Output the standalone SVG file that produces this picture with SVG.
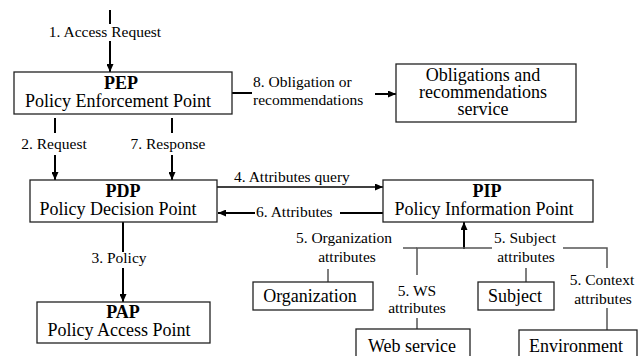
<svg xmlns="http://www.w3.org/2000/svg" width="639" height="356" viewBox="0 0 639 356" font-family="'Liberation Serif', 'DejaVu Serif', serif">
<style>
  text { font-family: "Liberation Serif", "DejaVu Serif", serif; fill: #000; }
  .box { fill: #fff; stroke: #222; stroke-width: 1.3; }
  .t { font-size: 18px; text-anchor: middle; }
  .b { font-weight: bold; }
  .lbl { font-size: 15.5px; }
  .mid { text-anchor: middle; }
  .arr { stroke: #000; stroke-width: 2; fill: none; }
  .bus { stroke: #555; stroke-width: 1.5; fill: none; }
</style>
<defs>
  <marker id="ah" markerUnits="userSpaceOnUse" markerWidth="8" markerHeight="7" refX="8" refY="3.5" orient="auto">
    <path d="M0,0 L8,3.5 L0,7 z" fill="#000"/>
  </marker>
</defs>
<rect width="639" height="356" fill="#fff"/>

<g id="connectors">
  <line class="arr" x1="110" y1="10" x2="110" y2="24"/>
  <line class="arr" x1="110" y1="41" x2="110" y2="72" marker-end="url(#ah)"/>
  <text class="lbl mid" x="105" y="37">1. Access Request</text>
  <line class="arr" x1="55" y1="118" x2="55" y2="133"/>
  <line class="arr" x1="55" y1="155" x2="55" y2="180" marker-end="url(#ah)"/>
  <text class="lbl mid" x="54" y="149">2. Request</text>
  <line class="arr" x1="172" y1="118" x2="172" y2="133"/>
  <line class="arr" x1="172" y1="155" x2="172" y2="180" marker-end="url(#ah)"/>
  <text class="lbl mid" x="168" y="149">7. Response</text>
  <line class="arr" x1="123" y1="222" x2="123" y2="252"/>
  <line class="arr" x1="123" y1="268" x2="123" y2="302" marker-end="url(#ah)"/>
  <text class="lbl mid" x="119" y="263">3. Policy</text>
  <line class="arr" x1="232" y1="93" x2="252" y2="93"/>
  <line class="arr" x1="375" y1="94" x2="396" y2="94" marker-end="url(#ah)"/>
  <text class="lbl" x="253" y="87">8. Obligation or</text>
  <text class="lbl" x="253" y="105">recommendations</text>
  <line x1="217" y1="187" x2="383" y2="187" stroke="#000" stroke-width="1.6" marker-end="url(#ah)"/>
  <text class="lbl" x="234" y="182">4. Attributes query</text>
  <line class="arr" x1="383" y1="213" x2="340" y2="213"/>
  <line class="arr" x1="255" y1="213" x2="218" y2="213" marker-end="url(#ah)"/>
  <text class="lbl" x="256" y="217">6. Attributes</text>
  <line class="arr" x1="464" y1="249" x2="464" y2="222" marker-end="url(#ah)"/>
  <polyline class="bus" points="417,275 417,248 492,248"/>
  <line class="bus" x1="403" y1="248" x2="417" y2="248"/>
  <polyline class="bus" points="563,248 607,248 607,268"/>
  <line class="bus" x1="607" y1="308" x2="607" y2="330"/>
  <line class="bus" x1="328" y1="269" x2="328" y2="282"/>
  <line class="bus" x1="526" y1="268" x2="526" y2="282"/>
  <line class="bus" x1="417" y1="318" x2="417" y2="329"/>
  <text class="lbl mid" x="344" y="243">5. Organization</text>
  <text class="lbl mid" x="347" y="262">attributes</text>
  <text class="lbl mid" x="525" y="243">5. Subject</text>
  <text class="lbl mid" x="526" y="262">attributes</text>
  <text class="lbl mid" x="417" y="296">5. WS</text>
  <text class="lbl mid" x="417" y="313">attributes</text>
  <text class="lbl mid" x="602" y="285">5. Context</text>
  <text class="lbl mid" x="603" y="304">attributes</text>
</g>

<g id="pep">
  <rect class="box" x="14" y="72" width="218" height="42"/>
  <text class="t b" x="121" y="89">PEP</text>
  <text class="t" x="118" y="107">Policy Enforcement Point</text>
</g>
<g id="obligations">
  <rect class="box" x="396" y="64" width="180" height="58"/>
  <text class="t" x="483" y="81">Obligations and</text>
  <text class="t" x="483" y="98">recommendations</text>
  <text class="t" x="483" y="115">service</text>
</g>
<g id="pdp">
  <rect class="box" x="30" y="180" width="187" height="42"/>
  <text class="t b" x="123" y="197">PDP</text>
  <text class="t" x="118" y="215">Policy Decision Point</text>
</g>
<g id="pip">
  <rect class="box" x="383" y="180" width="210" height="42"/>
  <text class="t b" x="487" y="197">PIP</text>
  <text class="t" x="484" y="215">Policy Information Point</text>
</g>
<g id="pap">
  <rect class="box" x="37" y="302" width="173" height="41"/>
  <text class="t b" x="123" y="318">PAP</text>
  <text class="t" x="119" y="336">Policy Access Point</text>
</g>
<g id="organization">
  <rect class="box" x="253" y="282" width="120" height="28"/>
  <text class="t" x="310" y="302">Organization</text>
</g>
<g id="subject">
  <rect class="box" x="478" y="282" width="76" height="28"/>
  <text class="t" x="515" y="302">Subject</text>
</g>
<g id="webservice">
  <rect class="box" x="356" y="329" width="114" height="32"/>
  <text class="t" x="412" y="352">Web service</text>
</g>
<g id="environment">
  <rect class="box" x="519" y="330" width="118" height="32"/>
  <text class="t" x="576" y="352">Environment</text>
</g>
</svg>
